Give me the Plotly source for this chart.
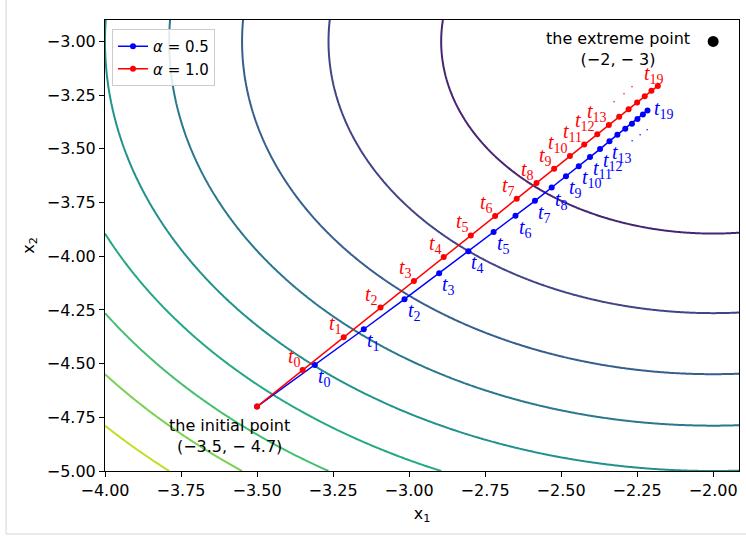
import numpy as np
import plotly.graph_objects as go

# ---------------- data ----------------
init_point = (-3.5, -4.7)
extreme_point = (-2.0, -3.0)

# alpha = 1.0 (red) iterates t0..t19
red_x1 = [-3.350, -3.215, -3.094, -2.984, -2.886, -2.797, -2.717, -2.646, -2.581, -2.523,
          -2.471, -2.424, -2.381, -2.343, -2.309, -2.278, -2.250, -2.225, -2.203, -2.182]
red_x2 = [-4.530, -4.377, -4.239, -4.115, -4.004, -3.903, -3.813, -3.732, -3.659, -3.593,
          -3.533, -3.480, -3.432, -3.389, -3.350, -3.315, -3.284, -3.255, -3.230, -3.207]

# alpha = 0.5 (blue) iterates t0..t19
blue_x1 = [-3.310, -3.149, -3.015, -2.901, -2.805, -2.722, -2.650, -2.586, -2.531, -2.484,
           -2.442, -2.405, -2.372, -2.341, -2.315, -2.289, -2.267, -2.249, -2.231, -2.216]
blue_x2 = [-4.507, -4.340, -4.200, -4.079, -3.977, -3.887, -3.811, -3.742, -3.680, -3.628,
           -3.581, -3.538, -3.501, -3.464, -3.434, -3.406, -3.383, -3.361, -3.340, -3.321]

labelled_steps = list(range(14)) + [19]
dotted_steps = [14, 15, 16]

contour_start, contour_end, contour_step = 0.8, 7.2, 0.8
contour_colors = ["#482475", "#414487", "#355f8d", "#2a788e", "#21918c",
                  "#22a884", "#44bf70", "#7ad151", "#bddf26"]

x1_range = [-4.0, -1.915]
x2_range = [-5.0, -2.9]
x_ticks = [-4.0, -3.75, -3.5, -3.25, -3.0, -2.75, -2.5, -2.25, -2.0]
y_ticks = [-5.0, -4.75, -4.5, -4.25, -4.0, -3.75, -3.5, -3.25, -3.0]

# ---------------- figure ----------------
gx = np.linspace(-4.0, -1.9, 400)
gy = np.linspace(-5.0, -2.9, 400)
GX, GY = np.meshgrid(gx, gy)
Z = (GX - extreme_point[0]) ** 2 + (GY - extreme_point[1]) ** 2

fig = go.Figure()
fig.add_trace(go.Contour(
    x=gx, y=gy, z=Z,
    contours=dict(coloring="lines", start=contour_start, end=contour_end, size=contour_step),
    colorscale=[[i / (len(contour_colors) - 1), c] for i, c in enumerate(contour_colors)],
    line=dict(width=2), showscale=False, hoverinfo="skip", showlegend=False,
))

fig.add_trace(go.Scatter(
    x=[init_point[0]] + blue_x1, y=[init_point[1]] + blue_x2,
    mode="lines+markers", name="<i>α</i> = 0.5",
    line=dict(color="blue", width=1.5), marker=dict(color="blue", size=6),
))
fig.add_trace(go.Scatter(
    x=[init_point[0]] + red_x1, y=[init_point[1]] + red_x2,
    mode="lines+markers", name="<i>α</i> = 1.0",
    line=dict(color="red", width=1.5), marker=dict(color="red", size=6),
))
fig.add_trace(go.Scatter(
    x=[extreme_point[0]], y=[extreme_point[1]], mode="markers",
    marker=dict(color="black", size=11), showlegend=False, cliponaxis=False,
))

ann = []
serif = "Liberation Serif"
lab_size = 20
for k in labelled_steps:
    txt = f"<i>t</i><sub>{k}</sub>"
    if k == 19:
        ann.append(dict(x=red_x1[k], y=red_x2[k], text=txt, showarrow=False,
                        xanchor="center", yanchor="bottom", xshift=-4, yshift=-3,
                        font=dict(family=serif, size=lab_size, color="red")))
        ann.append(dict(x=blue_x1[k], y=blue_x2[k], text=txt, showarrow=False,
                        xanchor="left", yanchor="middle", xshift=5, yshift=1,
                        font=dict(family=serif, size=lab_size, color="blue")))
    else:
        ann.append(dict(x=red_x1[k], y=red_x2[k], text=txt, showarrow=False,
                        xanchor="right", yanchor="bottom", xshift=0, yshift=-2,
                        font=dict(family=serif, size=lab_size, color="red")))
        ann.append(dict(x=blue_x1[k], y=blue_x2[k], text=txt, showarrow=False,
                        xanchor="left", yanchor="top", xshift=1, yshift=2,
                        font=dict(family=serif, size=lab_size, color="blue")))
for k in dotted_steps:
    ann.append(dict(x=red_x1[k], y=red_x2[k], text="•", showarrow=False,
                    xanchor="center", yanchor="middle", xshift=-5, yshift=15,
                    font=dict(family=serif, size=6, color="red")))
    ann.append(dict(x=blue_x1[k], y=blue_x2[k], text="•", showarrow=False,
                    xanchor="center", yanchor="middle", xshift=15, yshift=-6,
                    font=dict(family=serif, size=6, color="blue")))

sans = "DejaVu Sans"
ann.append(dict(x=extreme_point[0], y=extreme_point[1],
                text="the extreme point<br>(−2, − 3)", showarrow=False,
                xanchor="center", yanchor="middle", xshift=-95, yshift=-8, align="center",
                font=dict(family=sans, size=16, color="black")))
ann.append(dict(x=init_point[0], y=init_point[1],
                text="the initial point<br>(−3.5, − 4.7)", showarrow=False,
                xanchor="center", yanchor="middle", xshift=-28, yshift=-29, align="center",
                font=dict(family=sans, size=16, color="black")))

frame_color = "#d6d6d6"
shapes = [
    dict(type="line", xref="paper", yref="paper", x0=-0.156, x1=-0.156, y0=-0.1397, y1=1.05,
         line=dict(color=frame_color, width=1)),
    dict(type="line", xref="paper", yref="paper", x0=-0.156, x1=1.05, y0=-0.1397, y1=-0.1397,
         line=dict(color=frame_color, width=1)),
]

axis_common = dict(showgrid=False, zeroline=False, showline=True, mirror=True,
                   linecolor="black", linewidth=1, ticks="outside", ticklen=5,
                   tickwidth=1, tickcolor="black", tickformat=".2f",
                   tickfont=dict(family=sans, size=16, color="black"))

fig.update_layout(
    width=746, height=537,
    margin=dict(l=105, r=7, t=20, b=66),
    paper_bgcolor="white", plot_bgcolor="white",
    xaxis=dict(range=x1_range, tickvals=x_ticks,
               title=dict(text="x<sub>1</sub>", font=dict(family=sans, size=16, color="black"),
                          standoff=8),
               **axis_common),
    yaxis=dict(range=x2_range, tickvals=y_ticks,
               title=dict(text="x<sub>2</sub>", font=dict(family=sans, size=16, color="black"),
                          standoff=8),
               **axis_common),
    legend=dict(x=0.011, y=0.98, xanchor="left", yanchor="top",
                bgcolor="rgba(255,255,255,0.85)", bordercolor="#cccccc", borderwidth=1,
                font=dict(family=sans, size=15, color="black"), tracegroupgap=0),
    annotations=ann, shapes=shapes, showlegend=True,
)

fig.write_html("out.html", config={"displayModeBar": False},
               post_script="document.body.style.margin='0px';")
